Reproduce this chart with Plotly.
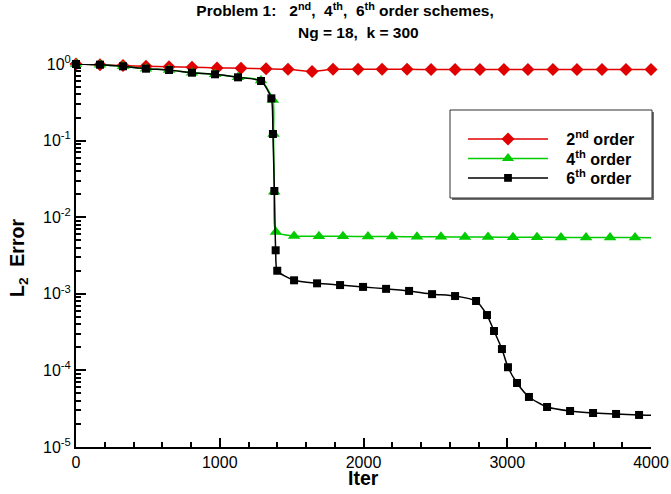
import plotly.graph_objects as go

# ---------------- data ----------------
red_x = [0, 167, 327, 487, 647, 807, 981, 1148, 1322, 1475, 1642, 1788, 1962, 2129,
         2303, 2470, 2637, 2810, 2977, 3144, 3318, 3485, 3659, 3826, 4000]
red_y = [1.0, 0.975, 0.955, 0.935, 0.92, 0.905, 0.89, 0.88, 0.865, 0.855, 0.80, 0.852,
         0.852, 0.851, 0.851, 0.85, 0.85, 0.85, 0.85, 0.85, 0.85, 0.85, 0.85, 0.85, 0.85]

green_x = [0, 167, 327, 487, 647, 807, 967, 1127, 1287, 1370, 1374, 1379, 1391, 1517,
           1690, 1857, 2031, 2198, 2372, 2539, 2706, 2866, 3040, 3207, 3374, 3548,
           3715, 3889, 4000]
green_y = [1.0, 0.98, 0.933, 0.869, 0.835, 0.77, 0.734, 0.67, 0.61, 0.34, 0.122, 0.0215,
           6.4e-3, 5.7e-3, 5.65e-3, 5.62e-3, 5.6e-3, 5.58e-3, 5.56e-3, 5.54e-3, 5.52e-3,
           5.5e-3, 5.48e-3, 5.46e-3, 5.45e-3, 5.44e-3, 5.43e-3, 5.42e-3, 5.41e-3]

black_x = [0, 167, 327, 487, 647, 807, 967, 1127, 1287, 1359, 1370, 1380, 1389, 1400,
           1517, 1677, 1837, 1997, 2157, 2317, 2477, 2637, 2783, 2859, 2908, 2963,
           3005, 3068, 3151, 3277, 3437, 3597, 3757, 3917, 4000]
black_y = [1.0, 0.98, 0.933, 0.869, 0.835, 0.77, 0.734, 0.67, 0.6, 0.356, 0.122, 0.022,
           3.7e-3, 2.0e-3, 1.5e-3, 1.37e-3, 1.3e-3, 1.23e-3, 1.16e-3, 1.09e-3, 9.9e-4,
           9.35e-4, 8.05e-4, 5.28e-4, 3.27e-4, 1.9e-4, 1.1e-4, 6.85e-5, 4.5e-5, 3.33e-5,
           2.95e-5, 2.78e-5, 2.7e-5, 2.62e-5, 2.6e-5]

series_names = ["2<sup>nd</sup> order", "4<sup>th</sup> order", "6<sup>th</sup> order"]

y_tick_vals = [1e-5, 1e-4, 1e-3, 1e-2, 1e-1, 1.0]
y_tick_text = ["10<sup>-5</sup>", "10<sup>-4</sup>", "10<sup>-3</sup>",
               "10<sup>-2</sup>", "10<sup>-1</sup>", "10<sup>0</sup>"]
y_minor_vals = [m * 10.0 ** e for e in range(-5, 0) for m in range(2, 10)]

FONT = "Liberation Sans, Arial, Helvetica, sans-serif"

# plot-area geometry (pixels)
W, H = 671, 494
PL, PR, PT, PB = 76, 651, 64, 447
PW, PH = PR - PL, PB - PT

def px_x(px):
    return (px - PL) / PW

def px_y(py):
    return (PB - py) / PH

fig = go.Figure()

def add_series(x, y, name, color, symbol, size, last_has_marker, legend_id):
    sizes = [size] * len(x)
    if not last_has_marker:
        sizes[-1] = 0
    fig.add_trace(go.Scatter(
        x=x, y=y, name="   " + name, mode="lines+markers",
        line=dict(color=color, width=1.5, shape="spline", smoothing=0.6),
        marker=dict(symbol=symbol, size=sizes, color=color, opacity=1,
                    line=dict(width=0)),
        cliponaxis=False, legend=legend_id, hoverinfo="skip",
    ))

add_series(red_x, red_y, series_names[0], "#e00000", "diamond", 10, True, "legend")
add_series(green_x, green_y, series_names[1], "#00cc00", "triangle-up", 11, False, "legend2")
add_series(black_x, black_y, series_names[2], "#000000", "square", 8, False, "legend3")

# legend box (with shadow)
bx0, bx1, by0, by1 = 450, 652, 110, 198
fig.add_shape(type="rect", xref="paper", yref="paper",
              x0=px_x(bx0 + 2), x1=px_x(bx1 + 2), y0=px_y(by1 + 2), y1=px_y(by0 + 2),
              line=dict(width=0), fillcolor="#707070", layer="above")
fig.add_shape(type="rect", xref="paper", yref="paper",
              x0=px_x(bx0), x1=px_x(bx1), y0=px_y(by1), y1=px_y(by0),
              line=dict(width=1, color="#303030"), fillcolor="white", layer="above")

def leg(py):
    return dict(x=px_x(463), y=px_y(py), xanchor="left", yanchor="middle",
                bgcolor="rgba(0,0,0,0)", borderwidth=0, itemwidth=80,
                font=dict(family=FONT, size=16, weight="bold", color="black"))

title_font = dict(family=FONT, size=15.5, weight="bold", color="black")
axis_title_font = dict(family=FONT, size=19.5, weight="bold", color="black")

fig.update_layout(
    width=W, height=H,
    margin=dict(l=PL, r=W - PR, t=PT, b=H - PB, autoexpand=False),
    paper_bgcolor="white", plot_bgcolor="white",
    font=dict(family=FONT, color="black", size=16),
    title=dict(text="Problem 1:   2<sup>nd</sup>,  4<sup>th</sup>,  6<sup>th</sup> order schemes,",
               x=345 / W, xanchor="center", y=1 - 11 / H, yanchor="middle",
               xref="container", yref="container", font=title_font),
    annotations=[
        dict(text="Ng = 18,  k = 300", xref="paper", yref="paper",
             x=px_x(358), y=px_y(32), xanchor="center", yanchor="middle",
             showarrow=False, font=title_font),
        dict(text="Iter", xref="paper", yref="paper",
             x=px_x(363), y=px_y(478), xanchor="center", yanchor="middle",
             showarrow=False, borderpad=0, font=axis_title_font),
        dict(text="L<sub>2</sub>  Error", xref="paper", yref="paper", textangle=-90,
             x=px_x(18), y=px_y(258), xanchor="center", yanchor="middle",
             showarrow=False, font=axis_title_font),
    ],
    showlegend=True,
    legend=leg(139), legend2=leg(158.5), legend3=leg(178),
    xaxis=dict(range=[0, 4000], showline=True, linecolor="black", linewidth=2,
               automargin=False,
               ticks="inside", ticklen=9, tickwidth=2, tickcolor="black",
               tick0=0, dtick=1000, showgrid=False, zeroline=False,
               minor=dict(ticks="inside", ticklen=5, tickwidth=1.5, tickcolor="black",
                          tick0=0, dtick=200, showgrid=False),
               tickfont=dict(family=FONT, size=16, color="black")),
    yaxis=dict(type="log", range=[-5, 0], showline=True, linecolor="black", linewidth=2,
               automargin=False,
               ticks="inside", ticklen=10, tickwidth=2, tickcolor="black",
               tickmode="array", tickvals=y_tick_vals, ticktext=y_tick_text,
               showgrid=False, zeroline=False,
               minor=dict(ticks="inside", ticklen=5, tickwidth=1.5, tickcolor="black",
                          tickmode="array", tickvals=y_minor_vals, showgrid=False),
               tickfont=dict(family=FONT, size=16, color="black")),
)

fig.write_html("out.html", config=dict(displayModeBar=False),
               post_script="document.body.style.margin='0px';")
